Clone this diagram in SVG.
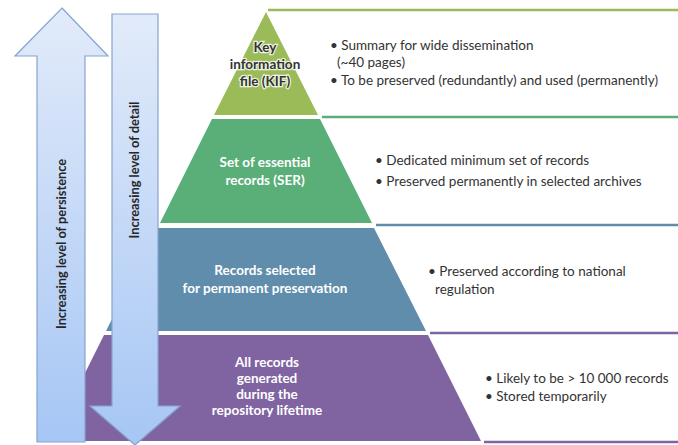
<svg xmlns="http://www.w3.org/2000/svg" width="678" height="445" viewBox="0 0 678 445">
<style>
.lbl{font-family:Lato,"Open Sans","Liberation Sans",sans-serif;font-weight:bold;font-size:13.5px;fill:#ffffff;text-anchor:middle}
.kif{fill:#333333;stroke:#ffffff;stroke-width:2.5;stroke-opacity:0.8;paint-order:stroke}
.desc{font-family:Lato,"Open Sans","Liberation Sans",sans-serif;font-size:13.5px;fill:#333333}
.arr{fill:url(#ag);stroke:#86a3cf;stroke-width:1.2}
.atxt{font-family:Lato,"Open Sans","Liberation Sans",sans-serif;font-weight:bold;font-size:12.8px;fill:#262626;text-anchor:middle}
.ln{stroke-width:2.5;fill:none}
</style>
<defs>
<linearGradient id="ag" x1="0" y1="0" x2="0" y2="1">
<stop offset="0" stop-color="#e2ebfa"/>
<stop offset="1" stop-color="#a6c6f4"/>
</linearGradient>
</defs>
<rect width="678" height="445" fill="#ffffff"/>
<g id="connectors">
<line class="ln" x1="268" y1="10" x2="678" y2="10" stroke="#9bbb59"/>
<line class="ln" x1="322" y1="117" x2="678" y2="117" stroke="#5aae78"/>
<line class="ln" x1="376" y1="225" x2="678" y2="225" stroke="#5f8dab"/>
<line class="ln" x1="430" y1="333" x2="678" y2="333" stroke="#8064a2"/>
<line class="ln" x1="484" y1="442" x2="678" y2="442" stroke="#8064a2"/>
</g>
<g id="kif">
<polygon points="266,12 318,115 214,115" fill="#9bbb59"/>
<text class="lbl kif" x="265" y="52">Key</text>
<text class="lbl kif" x="265" y="69">information</text>
<text class="lbl kif" x="265" y="86">file (KIF)</text>
<text class="desc" x="330" y="50">• Summary for wide dissemination</text>
<text class="desc" x="337" y="67">(~40 pages)</text>
<text class="desc" x="330" y="85">• To be preserved (redundantly) and used (permanently)</text>
</g>
<g id="ser">
<polygon points="212,119 320,119 372,223 160,223" fill="#5aae78"/>
<text class="lbl" x="265" y="167">Set of essential</text>
<text class="lbl" x="265" y="185">records (SER)</text>
<text class="desc" x="375" y="165">• Dedicated minimum set of records</text>
<text class="desc" x="375" y="186">• Preserved permanently in selected archives</text>
</g>
<g id="selected">
<polygon points="158,228 374,228 426,331 106,331" fill="#5f8dab"/>
<text class="lbl" x="265" y="275">Records selected</text>
<text class="lbl" x="265" y="293">for permanent preservation</text>
<text class="desc" x="428" y="276">• Preserved according to national</text>
<text class="desc" x="435" y="294">regulation</text>
</g>
<g id="all">
<polygon points="104,335 428,335 481,441 51,441" fill="#8064a2"/>
<text class="lbl" x="267" y="367">All records</text>
<text class="lbl" x="267" y="383">generated</text>
<text class="lbl" x="267" y="399">during the</text>
<text class="lbl" x="267" y="415">repository lifetime</text>
<text class="desc" x="485" y="383">• Likely to be  &gt; 10 000 records</text>
<text class="desc" x="485" y="401">• Stored temporarily</text>
</g>
<g id="persistence">
<polygon class="arr" points="62,8 108,56 85,56 85,442 37,442 37,56 15,56"/>
<text class="atxt" transform="translate(66,244) rotate(-90)">Increasing level of persistence</text>
</g>
<g id="detail">
<polygon class="arr" points="112,14 158,14 158,406 180,406 135,445 90,406 112,406"/>
<text class="atxt" transform="translate(139,170) rotate(-90)">Increasing level of detail</text>
</g>
</svg>
